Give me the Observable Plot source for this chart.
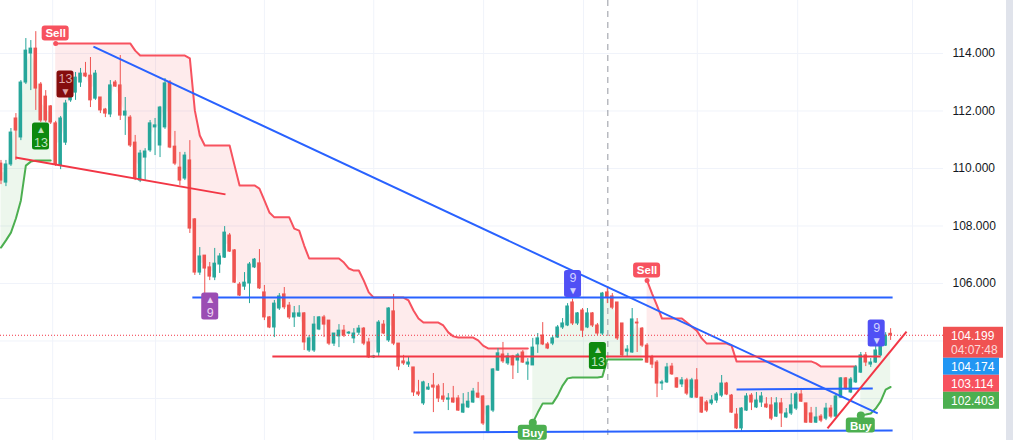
<!DOCTYPE html>
<html><head><meta charset="utf-8">
<script src="https://cdn.jsdelivr.net/npm/d3@7"></script>
<script src="https://cdn.jsdelivr.net/npm/@observablehq/plot@0.6"></script>
<style>body{margin:0;background:#fff;}#chart{width:1013px;height:440px;overflow:hidden;}</style>
</head><body><div id="chart"></div>
<script>
// ---- candles (index order, price values) ----
const opens = [110.17,109.51,110.14,111.74,111.08,112.99,114.00,114.17,112.92,112.50,
112.16,111.57,110.10,110.90,112.37,112.64,112.99,113.30,113.23,112.43,
112.47,112.05,111.88,112.99,112.89,111.84,111.77,110.90,109.58,110.38,
110.63,111.43,110.80,111.43,112.99,110.76,110.03,109.65,110.28,108.23,
106.38,106.97,106.56,106.21,106.66,106.90,107.67,107.15,105.96,105.89,
106.00,106.56,106.70,105.69,104.82,104.47,105.13,105.62,105.23,104.82,
104.85,104.96,103.67,103.67,104.40,104.82,104.71,103.91,104.16,104.36,
104.26,104.09,104.29,104.43,103.95,103.43,103.60,104.57,104.02,105.03,
103.91,103.29,103.18,103.08,102.21,101.83,102.31,102.45,102.42,102.07,
101.96,102.00,102.00,101.51,101.69,101.86,102.17,102.07,100.82,101.58,
102.97,103.53,103.22,103.46,103.32,103.60,103.18,103.15,103.88,104.19,
103.88,103.91,104.12,104.47,104.54,105.34,104.61,105.06,104.47,104.96,
104.54,104.26,105.69,105.55,105.34,104.61,103.63,103.60,104.64,104.43,
103.84,103.43,103.25,102.52,102.56,103.11,102.70,102.49,102.63,102.03,
102.63,102.03,101.86,101.83,101.93,102.10,102.52,102.10,101.44,100.96,
101.58,102.10,101.69,101.86,101.79,101.76,101.37,101.83,101.34,101.48,
101.65,102.14,101.83,101.48,101.16,101.37,101.30,101.65,101.37,102.03,
102.70,102.21,102.56,102.90,103.50,103.18,103.25,103.50,103.84,104.25];
const highs = [110.28,110.28,111.39,111.91,113.06,114.52,114.45,114.76,112.99,112.71,
112.19,111.64,111.81,112.37,113.23,113.34,113.48,113.69,113.86,113.41,
112.47,112.09,113.06,113.06,113.93,112.47,111.84,111.15,110.63,110.69,
111.67,111.74,112.16,113.13,113.06,111.29,110.56,110.56,110.97,108.26,
107.25,106.97,106.73,107.22,107.04,107.98,107.74,107.18,106.03,106.38,
106.73,106.87,107.18,105.93,104.85,105.41,105.65,105.86,105.34,105.20,
105.23,104.99,104.19,104.85,104.85,104.89,104.71,104.26,104.57,104.54,
104.33,104.43,104.54,104.47,104.09,103.50,104.71,104.71,105.16,105.62,
103.91,103.50,103.43,103.08,102.63,102.60,102.52,102.87,102.49,102.52,
102.17,102.42,102.10,102.17,102.21,102.35,102.56,102.10,101.76,103.04,
103.74,103.95,103.57,103.50,103.57,103.67,103.39,104.09,104.26,104.64,
103.95,104.19,104.54,104.78,105.30,105.45,104.99,105.13,105.13,104.99,
104.61,105.69,105.83,105.65,105.34,104.61,103.84,105.13,104.78,104.47,
103.91,103.50,103.32,102.63,103.22,103.22,102.73,102.73,102.70,102.70,
103.04,102.03,101.93,102.10,102.21,102.80,102.56,102.14,101.65,101.68,
102.17,102.17,102.21,102.21,102.03,102.03,102.03,102.00,101.65,102.17,
102.21,102.35,101.83,101.69,101.69,101.44,101.83,101.76,102.14,102.73,
102.73,102.73,103.15,103.60,103.60,103.39,103.91,104.19,104.29,104.43];
const lows = [109.44,109.37,110.07,110.28,110.97,112.92,112.71,112.02,111.60,111.60,
111.53,110.07,109.96,110.80,112.30,112.37,112.82,113.16,112.12,112.37,
111.91,111.77,111.77,112.82,111.67,111.15,110.73,109.58,109.51,109.58,
110.56,110.45,110.38,111.36,110.69,110.10,109.41,109.58,107.74,106.28,
106.28,105.41,106.10,106.10,106.35,106.87,107.08,106.00,105.55,105.76,
105.30,106.52,105.79,104.71,104.43,104.12,105.06,105.09,104.75,104.47,
104.82,103.67,103.60,103.60,104.36,104.12,103.84,103.81,103.77,104.12,
104.22,103.91,104.19,103.84,103.39,103.39,103.43,104.22,103.95,103.84,
102.97,103.15,103.08,102.07,102.07,101.76,102.28,101.51,101.86,101.86,
101.58,101.83,101.55,101.48,101.65,101.83,102.00,101.06,100.78,101.51,
102.94,103.22,103.15,102.66,102.87,103.22,102.63,103.15,103.57,103.84,
103.70,103.84,104.09,104.40,104.50,104.54,104.54,104.12,104.43,104.47,
104.19,104.19,105.30,105.09,104.02,103.43,103.43,103.57,103.60,103.77,
103.22,103.04,102.03,102.28,102.52,102.80,102.35,102.38,102.10,102.00,
102.00,101.48,101.51,101.76,101.83,102.03,102.10,101.48,100.92,100.82,
101.55,101.58,101.65,101.69,101.65,101.23,101.34,100.99,101.30,101.41,
101.58,101.86,101.13,101.13,101.13,101.16,101.23,101.30,101.34,102.00,
102.28,102.17,102.52,102.87,103.11,103.08,103.22,103.46,103.81,104.02];
const closes = [109.58,110.14,111.25,111.32,112.99,114.10,114.17,112.78,111.67,111.67,
111.60,110.14,111.74,112.26,112.82,113.16,113.30,113.20,112.37,113.30,
112.02,111.91,112.89,112.85,111.84,111.98,110.80,109.65,110.52,110.59,
111.57,111.50,112.12,112.96,110.73,110.17,109.58,110.45,107.91,106.38,
106.94,106.52,106.24,106.69,106.94,107.77,107.11,106.03,105.58,106.03,
106.66,106.83,105.83,104.82,104.47,105.30,105.55,105.17,104.82,104.96,
104.96,103.95,104.09,104.57,104.82,104.57,103.91,104.26,104.36,104.19,
104.29,104.26,104.43,103.91,103.43,103.46,104.64,104.26,105.13,103.91,
103.11,103.22,103.25,102.21,102.14,102.56,102.38,102.38,102.00,101.96,
102.00,101.86,101.58,101.79,101.89,102.24,102.03,101.13,101.72,103.01,
103.57,103.29,103.46,103.15,103.50,103.25,103.25,103.77,104.09,103.88,
103.74,104.09,104.47,104.61,105.20,104.61,104.96,104.36,104.96,104.54,
104.26,105.65,105.51,105.16,104.09,103.50,103.70,104.75,104.61,103.84,
103.25,103.18,102.52,102.56,103.08,102.84,102.38,102.63,102.17,102.63,
102.03,101.51,101.58,101.93,102.14,102.52,102.14,101.51,100.96,101.65,
102.07,101.86,101.93,102.07,101.69,101.30,101.83,101.48,101.48,101.76,
102.14,101.89,101.16,101.16,101.34,101.23,101.65,101.37,102.07,102.70,
102.35,102.66,103.08,103.50,103.25,103.25,103.67,104.12,104.19,104.199];

// ---- supertrend line values and the bars where it flips ----
const superTrend = [107.25,107.50,107.77,108.26,108.89,110.10,110.24,110.28,110.28,110.28,
110.28,114.35,114.35,114.35,114.35,114.35,114.35,114.35,114.35,114.35,
114.35,114.35,114.35,114.35,114.35,114.35,114.35,114.10,113.93,113.93,
113.93,113.93,113.93,113.93,113.93,113.93,113.93,113.93,113.83,112.02,
111.15,110.80,110.80,110.80,110.80,110.80,110.80,110.10,109.41,109.41,
109.41,109.41,109.30,108.89,108.47,108.30,108.30,108.30,108.30,107.91,
107.84,107.32,106.87,106.87,106.87,106.87,106.87,106.87,106.87,106.73,
106.52,106.45,106.45,106.10,105.69,105.51,105.51,105.51,105.51,105.51,
105.51,105.51,105.41,105.06,104.78,104.64,104.64,104.64,104.64,104.54,
104.30,104.16,104.12,104.12,104.12,104.12,104.02,103.84,103.74,103.74,
103.74,103.74,103.74,103.74,103.74,103.74,103.74,101.16,101.51,101.83,
101.83,101.83,102.10,102.45,102.70,102.73,102.73,102.73,102.73,102.73,
102.73,102.76,103.36,103.36,103.36,103.36,103.36,103.36,103.36,103.36,
106.10,105.65,105.23,104.78,104.78,104.78,104.78,104.78,104.64,104.50,
104.36,104.09,103.91,103.91,103.91,103.91,103.91,103.84,103.29,103.29,
103.29,103.29,103.29,103.29,103.29,103.29,103.29,103.29,103.29,103.29,
103.29,103.29,103.29,103.29,103.22,103.11,103.11,103.11,103.11,103.11,
103.11,103.11,103.11,101.41,101.44,101.48,101.65,101.90,102.31,102.40];
const firstSide = "up";
const flipIndex = [11, 107, 130, 173];

// ---- TD count labels ----
const countLabels = [
  {i: 12.98, price: 112.92, count: "13", kind: "sell13"},
  {i: 8.05, price: 111.11, count: "13", kind: "buy13"},
  {i: 42.1, price: 105.20, count: "9", kind: "buy9"},
  {i: 115.1, price: 105.98, count: "9", kind: "sell9"},
  {i: 120.1, price: 103.48, count: "13", kind: "buy13"},
  {i: 176.2, price: 104.26, count: "9", kind: "sell9"}
];

// ---- drawn trend lines ----
const blueLines = [
  {i1: 18.6, p1: 114.24, i2: 176.4, p2: 101.48},
  {i1: 38.5, p1: 105.51, i2: 179.4, p2: 105.51},
  {i1: 83.0, p1: 100.82, i2: 179.4, p2: 100.89},
  {i1: 148.0, p1: 102.31, i2: 175.4, p2: 102.35}
];
const redLines = [
  {i1: 2.92, p1: 110.38, i2: 45.17, p2: 109.10},
  {i1: 54.6, p1: 103.46, i2: 177.0, p2: 103.46},
  {i1: 166.3, p1: 100.96, i2: 182.2, p2: 104.33}
];

// ---- axes / misc ----
const tickValues = [106, 108, 110, 112, 114];
const gridPrices = [102, 104, 106, 108, 110, 112, 114];
const gridIndex = [10.4, 31.1, 53, 75, 97.1, 117.2, 140.1, 160.3, 183.4];
const cursorIndex = [122.1];
const lastPrice = 104.199;
const priceTags = [
  {value: 104.199, text: "104.199", sub: "04:07:48", kind: "last"},
  {value: 104.174, text: "104.174", kind: "blue"},
  {value: 103.114, text: "103.114", kind: "down"},
  {value: 102.403, text: "102.403", kind: "up"}
];

// ---- build tables ----
const candles = opens.map((o, i) => ({i, open: o, high: highs[i], low: lows[i], close: closes[i]}));
const upC = candles.filter(d => d.close >= d.open);
const dnC = candles.filter(d => d.close < d.open);

let side = firstSide, seg = 0;
const st = superTrend.map((v, i) => {
  if (flipIndex.includes(i)) { side = side === "up" ? "down" : "up"; seg++; }
  return {i, v, side, seg, mid: (opens[i] + closes[i]) / 2};
});
const stUp = st.filter(d => d.side === "up");
const stDn = st.filter(d => d.side === "down");
const signals = flipIndex.map(i => ({i, price: superTrend[i], side: st[i].side}));
const sells = signals.filter(d => d.side === "down");
const buys = signals.filter(d => d.side === "up");

const countFill = {sell13: "#850d0d", buy13: "#0d890f", buy9: "#9b4db3", sell9: "#5050f5"};
const countInk = {sell13: "#dfa5a5", buy13: "#bfe3bf", buy9: "#ead2f1", sell9: "#d2d2ff"};
const downLabels = countLabels.filter(d => d.kind.startsWith("sell"));
const upLabels = countLabels.filter(d => d.kind.startsWith("buy"));

const UP = "#26a69a", DN = "#ef5350";
const STR = "#f7525f", STG = "#4caf50";

const chart = Plot.plot({
  width: 1013, height: 440,
  marginLeft: 0, marginRight: 70, marginTop: 0, marginBottom: 0,
  x: {domain: [-0.1, 189.64], axis: null},
  y: {domain: [100.539, 115.8435], axis: null},
  color: {type: "identity"},
  style: {fontFamily: "Liberation Sans, Arial, sans-serif", fontSize: "12px", background: "#ffffff", color: "#131722"},
  marks: [
    Plot.ruleY(gridPrices, {stroke: "#f0f3fa", strokeWidth: 1}),
    Plot.ruleX(gridIndex, {stroke: "#f0f3fa", strokeWidth: 1}),
    Plot.areaY(stDn, {x: "i", y1: "v", y2: "mid", z: "seg", fill: "#f23645", fillOpacity: 0.1}),
    Plot.areaY(stUp, {x: "i", y1: "v", y2: "mid", z: "seg", fill: "#4caf50", fillOpacity: 0.1}),
    Plot.ruleX(cursorIndex, {stroke: "#9598a1", strokeDasharray: "6,5", strokeWidth: 1}),
    Plot.line(stDn, {x: "i", y: "v", z: "seg", stroke: STR, strokeWidth: 2}),
    Plot.line(stUp, {x: "i", y: "v", z: "seg", stroke: STG, strokeWidth: 2}),
    Plot.ruleX(upC, {x: "i", y1: "low", y2: "high", stroke: UP, strokeWidth: 1}),
    Plot.ruleX(dnC, {x: "i", y1: "low", y2: "high", stroke: DN, strokeWidth: 1}),
    Plot.rect(upC, {x1: d => d.i - 0.36, x2: d => d.i + 0.36, y1: "open", y2: "close", fill: UP, insetTop: -0.5, insetBottom: -0.5}),
    Plot.rect(dnC, {x1: d => d.i - 0.36, x2: d => d.i + 0.36, y1: "open", y2: "close", fill: DN, insetTop: -0.5, insetBottom: -0.5}),
    Plot.link(blueLines, {x1: "i1", y1: "p1", x2: "i2", y2: "p2", stroke: "#2962ff", strokeWidth: 2}),
    Plot.link(redLines, {x1: "i1", y1: "p1", x2: "i2", y2: "p2", stroke: "#f23645", strokeWidth: 2}),
    Plot.ruleY([lastPrice], {stroke: "#f23645", strokeDasharray: "1,2", strokeWidth: 1}),
    // sell / buy labels
    Plot.dot(sells, {x: "i", y: "price", r: 2.5, fill: STR}),
    Plot.rect(sells, {x1: "i", x2: "i", y1: "price", y2: "price", insetLeft: -13.5, insetRight: -13.5, insetTop: -17.5, insetBottom: 2.5, rx: 3, fill: STR}),
    Plot.text(sells, {x: "i", y: "price", dy: -10, text: () => "Sell", fill: "#ffffff", fontSize: 11.5, fontWeight: "bold"}),
    Plot.dot(buys, {x: "i", y: "price", r: 4, fill: STG}),
    Plot.rect(buys, {x1: "i", x2: "i", y1: "price", y2: "price", insetLeft: -14.5, insetRight: -14.5, insetTop: 2.5, insetBottom: -17.5, rx: 3, fill: STG}),
    Plot.text(buys, {x: "i", y: "price", dy: 10.5, text: () => "Buy", fill: "#ffffff", fontSize: 11.5, fontWeight: "bold"}),
    // TD count labels
    Plot.rect(countLabels, {x1: "i", x2: "i", y1: "price", y2: "price", insetLeft: -8.5, insetRight: -8.5, insetTop: -13.5, insetBottom: -13.5, rx: 2.5, fill: d => countFill[d.kind]}),
    Plot.text(downLabels, {x: "i", y: "price", dy: -6, text: "count", fill: d => countInk[d.kind], fontSize: 12.5}),
    Plot.text(downLabels, {x: "i", y: "price", dy: 7, text: () => "\u25BC", fill: d => countInk[d.kind], fontSize: 10}),
    Plot.text(upLabels, {x: "i", y: "price", dy: -6.5, text: () => "\u25B2", fill: d => countInk[d.kind], fontSize: 10}),
    Plot.text(upLabels, {x: "i", y: "price", dy: 6.5, text: "count", fill: d => countInk[d.kind], fontSize: 12.5}),
    // price axis labels
    Plot.text(tickValues, {y: d => d, frameAnchor: "right", dx: 9, textAnchor: "start", text: d => d.toFixed(3), fill: "#131722", fontSize: 12})
  ]
});
document.getElementById("chart").appendChild(chart);

// price tags on the right scale
const ys = chart.scale("y");
const yf = ys.apply ? (v => ys.apply(v)) : d3.scaleLinear(ys.domain, ys.range);
const tagFill = {last: "#f05252", blue: "#2196f3", down: "#f7525f", up: "#4caf50"};
const svg = d3.select(chart);
svg.append("rect").attr("x", 1006).attr("y", 0).attr("width", 7).attr("height", 440).attr("fill", "#e0e3eb");
let prevBottom = -Infinity;
const xr = 943;
priceTags.forEach(t => {
  const h = t.sub ? 31 : 17;
  const top = Math.max(yf(t.value) - 8, prevBottom);
  prevBottom = top + h;
  const g = svg.append("g").attr("text-anchor", "start").attr("font-family", "Liberation Sans, Arial, sans-serif");
  g.append("rect").attr("x", xr).attr("y", top).attr("width", t.sub ? 60 : 56).attr("height", h).attr("fill", tagFill[t.kind]);
  g.append("text").attr("x", xr + 8).attr("y", top + 13).attr("fill", "#fff").attr("font-size", 12).text(t.text);
  if (t.sub) g.append("text").attr("x", xr + 8).attr("y", top + 27).attr("fill", "rgba(255,255,255,0.8)").attr("font-size", 12).text(t.sub);
});
</script>
</body></html>
